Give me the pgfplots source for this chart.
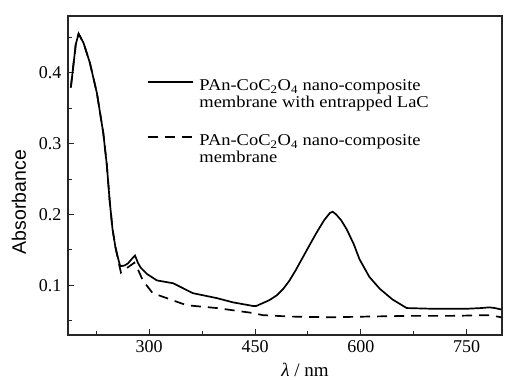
\documentclass[border=0pt]{standalone}
\usepackage{fontspec}
\setmainfont{Liberation Serif}
\setsansfont{Liberation Sans}
\usepackage{graphicx}
\usepackage{pgfplots}
\pgfplotsset{compat=1.18}
\newcommand{\legtxt}[1]{\scalebox{1.12}[1]{\begin{tabular}[t]{@{}l@{}}#1\end{tabular}}}
\begin{document}
\begin{tikzpicture}
\begin{axis}[
  scale only axis,
  width=434pt, height=319pt,
  xmin=185, xmax=800, ymin=0.03, ymax=0.48,
  axis line style={line width=1.1pt, black!85},
  xtick={300,450,600,750},
  minor xtick={225,375,525,675},
  ytick={0.1,0.2,0.3,0.4},
  minor ytick={0.05,0.15,0.25,0.35,0.45},
  yticklabels={0.1,0.2,0.3,0.4},
  xtick pos=bottom, ytick pos=left,
  tick align=inside,
  major tick length=6pt, minor tick length=4pt,
  tick style={line width=1pt, black!85},
  /pgf/number format/assume math mode=true,
  tick label style={font=\fontsize{18}{20}\selectfont},
  xticklabel style={yshift=-2pt},
  yticklabel style={xshift=-3pt},
  xlabel={\textit{λ} / nm},
  xlabel style={font=\fontsize{19}{21}\selectfont, at={(axis description cs:0.546,-0.11)}, anchor=center},
  ylabel={Absorbance},
  ylabel style={font=\sffamily\fontsize{19.5}{21}\selectfont, at={(axis description cs:-0.113,0.417)}, anchor=center},
  legend style={draw=none, fill=none, at={(axis description cs:0.174,0.8125)}, anchor=north west,
    font=\fontsize{16.5}{16.5}\selectfont, nodes={inner sep=1pt}, row sep=40pt, column sep=5pt},
  legend cell align=left,
  legend image code/.code={\draw[#1] (0pt,3.5pt) -- (45pt,3.5pt);},
]
\addplot[black, line width=1.7pt] coordinates {
(189,0.379)(196,0.44)(200,0.455)(207,0.442)(216,0.414)(226,0.371)(235,0.315)(240,0.27)(244,0.22)(248,0.18)(252,0.155)(256,0.138)(259,0.127)(265,0.128)(270,0.131)(276,0.138)(280,0.142)(284,0.132)(288,0.125)(297,0.116)(311,0.107)(334,0.103)(362,0.089)(396,0.082)(419,0.076)(447,0.071)(452,0.071)(470,0.079)(481,0.086)(490,0.095)(499,0.107)(508,0.122)(518,0.140)(528,0.158)(537,0.174)(548,0.192)(556,0.202)(560,0.204)(565,0.200)(572,0.192)(580,0.179)(590,0.158)(598,0.137)(612,0.112)(627,0.095)(645,0.080)(665,0.068)(702,0.067)(750,0.067)(770,0.068)(782,0.069)(790,0.068)(799,0.066)
};
\addlegendentry{\legtxt{PAn-CoC\textsubscript{2}O\textsubscript{4} nano-composite\\membrane with entrapped LaC}}
\addplot[black, line width=1.7pt, dash pattern=on 10pt off 7pt] coordinates {
(189,0.379)(196,0.44)(200,0.455)(207,0.442)(216,0.414)(226,0.371)(235,0.315)(240,0.27)(244,0.22)(248,0.18)(252,0.155)(256,0.136)(260,0.118)(265,0.122)(272,0.127)(279,0.132)(283,0.125)(291,0.107)(305,0.089)(325,0.082)(353,0.072)(396,0.068)(447,0.061)(461,0.058)(500,0.056)(556,0.055)(610,0.056)(669,0.057)(730,0.057)(782,0.058)(799,0.055)
};
\addlegendentry{\legtxt{PAn-CoC\textsubscript{2}O\textsubscript{4} nano-composite\\membrane}}
\end{axis}
\pgfresetboundingbox
\path (-68pt,-45pt) rectangle (438pt,335pt);
\end{tikzpicture}
\end{document}
